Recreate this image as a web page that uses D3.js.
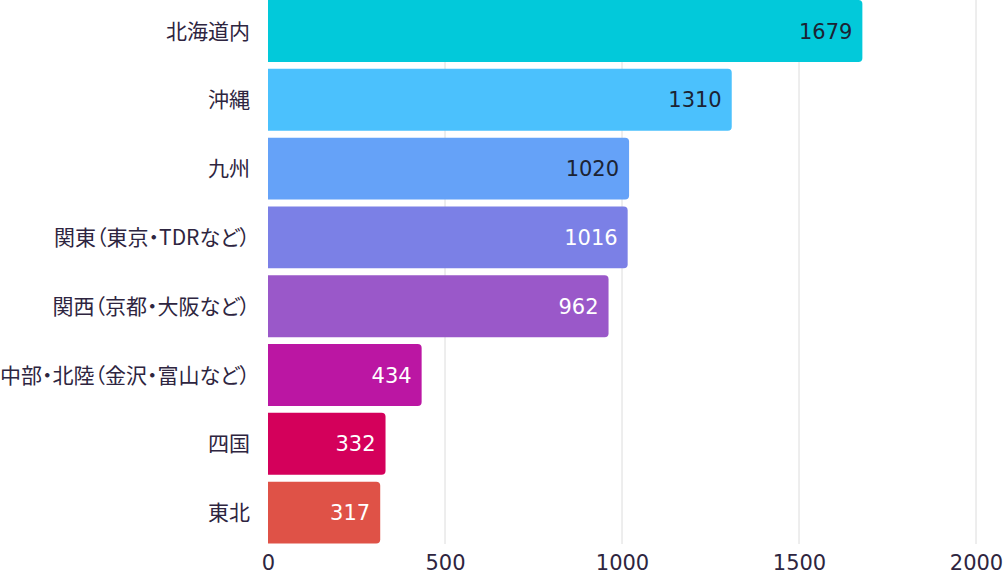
<!DOCTYPE html>
<html><head><meta charset="utf-8">
<script src="https://cdn.jsdelivr.net/npm/d3@7"></script>
<style>body{margin:0;background:#fff}svg{display:block}.cat{font-feature-settings:"palt" 1;}</style>
</head><body><svg id="c" width="1008" height="577"></svg>
<script>
const categories = ["北海道内","沖縄","九州","関東（東京・TDRなど）","関西（京都・大阪など）","中部・北陸（金沢・富山など）","四国","東北"];
const values = [1679,1310,1020,1016,962,434,332,317];
const colors = ["#02c9da","#4bc1fd","#65a2f8","#7b80e6","#9a58c9","#bb16a3","#d4005b","#df5247"];
const labelColors = ["#1c2333","#1c2333","#1c2333","#ffffff","#ffffff","#ffffff","#ffffff","#ffffff"];
const ticks = [0,500,1000,1500,2000];

const svg = d3.select("#c");
const font = "'Noto Sans CJK JP', 'Noto Sans', sans-serif";
const numFont = "'DejaVu Sans', sans-serif";
const x = d3.scaleLinear().domain([0,2000]).range([268,976]);
const y = d3.scaleBand().domain(categories).range([-3.4,547]).paddingInner(0.1).paddingOuter(0.05);

svg.append("g").selectAll("line").data(ticks.slice(1)).join("line")
  .attr("x1",d=>x(d)).attr("x2",d=>x(d)).attr("y1",0).attr("y2",544)
  .attr("stroke","#dcdcdc").attr("stroke-width",1);

function barPath(x0,x1,y0,h,r){
  return `M${x0},${y0}H${x1-r}Q${x1},${y0} ${x1},${y0+r}V${y0+h-r}Q${x1},${y0+h} ${x1-r},${y0+h}H${x0}Z`;
}
svg.append("g").selectAll("path").data(values).join("path")
  .attr("d",(d,i)=>barPath(x(0),x(d),y(categories[i]),y.bandwidth(),4))
  .attr("fill",(d,i)=>colors[i]);

svg.append("g").selectAll("text").data(values).join("text")
  .attr("x",d=>x(d)-10).attr("y",(d,i)=>y(categories[i])+y.bandwidth()/2)
  .attr("dy","0.36em").attr("text-anchor","end")
  .attr("font-family",numFont).attr("font-size",21)
  .attr("fill",(d,i)=>labelColors[i]).text(d=>d);

svg.append("g").selectAll("text").data(categories).join("text")
  .attr("class","cat")
  .attr("x",250).attr("y",d=>y(d)+y.bandwidth()/2).attr("dy","0.36em")
  .attr("text-anchor","end").attr("font-family",font).attr("font-size",21)
  .attr("fill","#2e2540").text(d=>d);

const xAxis = d3.axisBottom(x).tickValues(ticks).tickSize(0).tickPadding(0).tickFormat(d3.format("d"));
const ax = svg.append("g").attr("transform","translate(0,555)").call(xAxis);
ax.select(".domain").remove();
ax.selectAll("text").attr("font-family",numFont).attr("font-size",21).attr("fill","#2e2540").attr("dy","0.71em");
</script></body></html>
